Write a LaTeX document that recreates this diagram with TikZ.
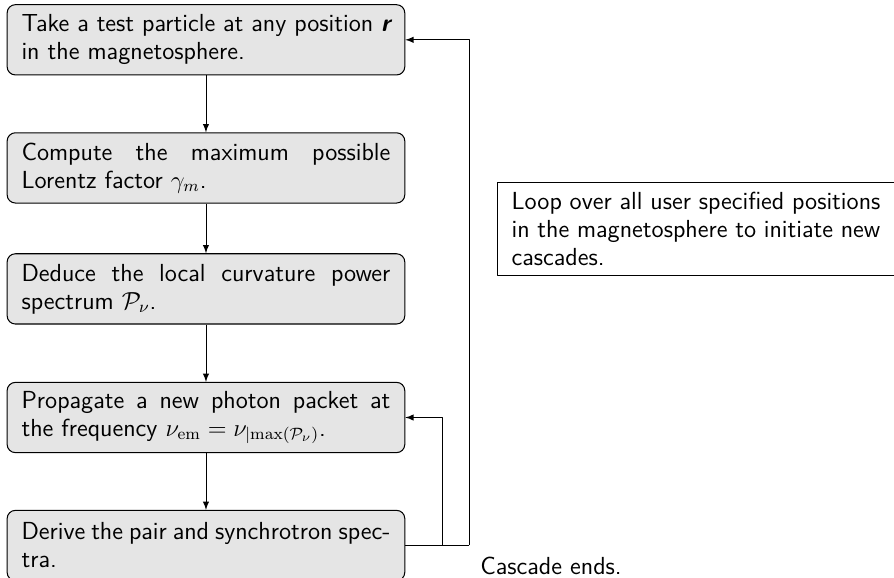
\documentclass[tikz,border=0pt]{standalone}
\usepackage{amsmath,amssymb}
\usetikzlibrary{arrows}
\begin{document}
\begin{tikzpicture}[line join=round, >=latex,
	stepbox/.style={draw, fill=gray!20, rounded corners, line width=0.5pt,
		text width=6.3cm, inner xsep=7pt, inner ysep=4pt, minimum height=1.2cm,
		align=justify, font=\sffamily\fontsize{12}{13.6}\selectfont},
	notebox/.style={draw, fill=white, line width=0.5pt, text width=6.3cm,
		inner xsep=7pt, minimum height=1.6cm, align=justify,
		font=\sffamily\fontsize{12}{13.6}\selectfont}]
	% 1. Khung hinh
	\clip (0,0) rectangle (15.27,-9.872);
	
	% 2. Cac buoc cua thuat toan
	\node[stepbox] (take) at (3.518,-0.680) {Take a test particle at any position \textbf{\textsl{r}} in the magnetosphere.};
	\node[stepbox] (compute) at (3.518,-2.868) {Compute the maximum possible Lorentz factor $\gamma_m$.};
	\node[stepbox] (deduce) at (3.518,-4.934) {Deduce the local curvature power spectrum $\mathcal{P}_\nu$.};
	\node[stepbox] (propagate) at (3.518,-7.131) {Propagate a new photon packet at the frequency $\nu_{\mathrm{em}}=\nu_{|\mathrm{max}(\mathcal{P}_\nu)}$.};
	\node[stepbox] (derive) at (3.518,-9.317) {Derive the pair and synchrotron spectra.};
	
	% 3. Mui ten giua cac buoc
	\draw[->] (take) -- (compute);
	\draw[->] (compute) -- (deduce);
	\draw[->] (deduce) -- (propagate);
	\draw[->] (propagate) -- (derive);
	
	% 4. Hai vong lap
	\coordinate (inner) at (7.549,-9.317);
	\coordinate (outer) at (8.010,-9.317);
	\draw (derive.east) -- (outer);
	\draw[->] (outer) |- (take.east);
	\draw[->] (inner) |- (propagate.east);
	
	% 5. Chu thich
	\node[notebox] (loop) at (11.888,-3.910) {Loop over all user specified positions in the magnetosphere to initiate new cascades.};
	\node[anchor=base west, inner sep=0pt, font=\sffamily\fontsize{12}{13.6}\selectfont] (ends) at (8.198,-9.804) {Cascade ends.};
\end{tikzpicture}
\end{document}
